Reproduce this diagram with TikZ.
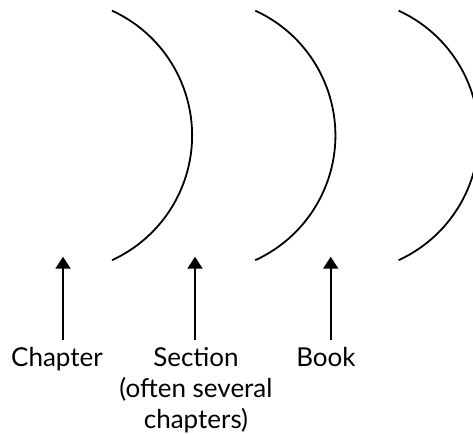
\documentclass[tikz,border=0pt]{standalone}
\usepackage{fontspec}
\setmainfont{Lato}
\usepackage{tikz}
\usetikzlibrary{arrows.meta,positioning}

\begin{document}
\begin{tikzpicture}[x=1pt,y=1pt,
  lbl/.style={font=\fontsize{26}{31}\selectfont,align=center,
              inner xsep=0pt,inner ysep=7pt,anchor=north},
  bracket/.style={line width=1.8pt},
  pointer/.style={line width=1.8pt,-{Triangle[width=15pt,length=12pt]}}]
  \useasboundingbox (0,0) rectangle (473,435);
  % the three closing brackets
  \foreach \bx in {112,255.3,398.6}
    \draw[bracket] (\bx,424.3) arc[start angle=65.4,end angle=-65.4,radius=137.2];
  % labels and their pointers
  \node[lbl] (chapter) at (57,95) {Chapter};
  \node[lbl] (section) at (196,95) {Section\\(often several\\chapters)};
  \node[lbl] (book) at (326,95) {Book};
  \coordinate (chapterTip) at (63,178.3);
  \coordinate (sectionTip) at (195,178.3);
  \coordinate (bookTip) at (330.7,178.3);
  \draw[pointer] (chapter.north -| chapterTip) -- (chapterTip);
  \draw[pointer] (section.north -| sectionTip) -- (sectionTip);
  \draw[pointer] (book.north -| bookTip) -- (bookTip);
\end{tikzpicture}
\end{document}
